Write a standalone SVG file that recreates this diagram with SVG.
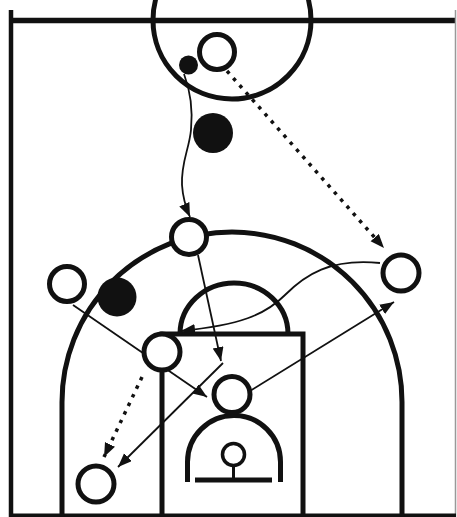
<svg xmlns="http://www.w3.org/2000/svg" width="457" height="517" viewBox="0 0 457 517">
  <defs>
    <marker id="arr" markerUnits="userSpaceOnUse" markerWidth="15" markerHeight="12" refX="14" refY="5.5" orient="auto">
      <path d="M0,0 L14,5.5 L0,11 Z" fill="#111" stroke="none"/>
    </marker>
    <style>
      .court{fill:none;stroke:#111;stroke-width:5}
      .thin{fill:none;stroke:#111;stroke-width:1.8}
      .dot{fill:none;stroke:#111;stroke-width:3.5;stroke-dasharray:3.5 6}
      .off{fill:#fff;stroke:#111;stroke-width:5}
      .def{fill:#111;stroke:none}
    </style>
  </defs>
  <rect width="457" height="517" fill="#fff"/>
  <g id="court">
    <line x1="11" y1="10" x2="11" y2="517" stroke="#111" stroke-width="4.5"/>
    <line x1="9" y1="20.5" x2="455" y2="20.5" stroke="#111" stroke-width="5.5"/>
    <line x1="455.5" y1="10" x2="455.5" y2="517" stroke="#999" stroke-width="1.5"/>
    <line x1="9" y1="515.5" x2="456" y2="515.5" stroke="#111" stroke-width="4"/>
    <circle class="court" cx="232" cy="20" r="79"/>
    <path class="court" d="M62,517 L62,402 A170,170 0 0 1 402,402 L402,517"/>
    <rect class="court" x="162" y="334" width="141" height="183"/>
    <path class="court" d="M180,334 A54,51 0 0 1 288,334"/>
    <path class="court" d="M187.5,482 L187.5,462 A46.5,46.5 0 0 1 280.5,462 L280.5,482"/>
    <line x1="195" y1="480" x2="272" y2="480" stroke="#111" stroke-width="5"/>
    <line x1="233.5" y1="466" x2="233.5" y2="480" stroke="#111" stroke-width="3"/>
    <circle cx="233.5" cy="454.5" r="11" fill="none" stroke="#111" stroke-width="3.5"/>
  </g>
  <g id="connectors">
    <path class="thin" d="M184,74 C190,90 193,110 191,130 C189,150 181,162 182,185 C183,200 186,208 190,217" marker-end="url(#arr)"/>
    <path class="dot" d="M227,71 L384,248" marker-end="url(#arr)"/>
    <path class="thin" d="M198,255 L221,361" marker-end="url(#arr)"/>
    <path class="thin" d="M380,263 C330,258 305,275 285,295 C265,315 240,325 181,331" marker-end="url(#arr)"/>
    <path class="thin" d="M73,305 L207,397" marker-end="url(#arr)"/>
    <path class="thin" d="M250,391 L394,302" marker-end="url(#arr)"/>
    <path class="thin" d="M223,363 L118,467" marker-end="url(#arr)"/>
    <path class="dot" d="M142,377 L104,457" marker-end="url(#arr)"/>
  </g>
  <g id="ball"><circle class="def" cx="188.5" cy="65" r="9.5"/></g>
  <g id="player1"><circle class="off" cx="217" cy="52" r="17.5"/></g>
  <g id="defender1"><circle class="def" cx="213" cy="133" r="20"/></g>
  <g id="player3"><circle class="off" cx="189" cy="237" r="17.5"/></g>
  <g id="player4"><circle class="off" cx="67" cy="284" r="17.5"/></g>
  <g id="defender2"><circle class="def" cx="117" cy="297" r="19.5"/></g>
  <g id="player6"><circle class="off" cx="162" cy="352" r="18"/></g>
  <g id="player7"><circle class="off" cx="401" cy="273" r="18"/></g>
  <g id="player9"><circle class="off" cx="232" cy="394.5" r="18"/></g>
  <g id="player8"><circle class="off" cx="96" cy="484" r="18"/></g>
</svg>
